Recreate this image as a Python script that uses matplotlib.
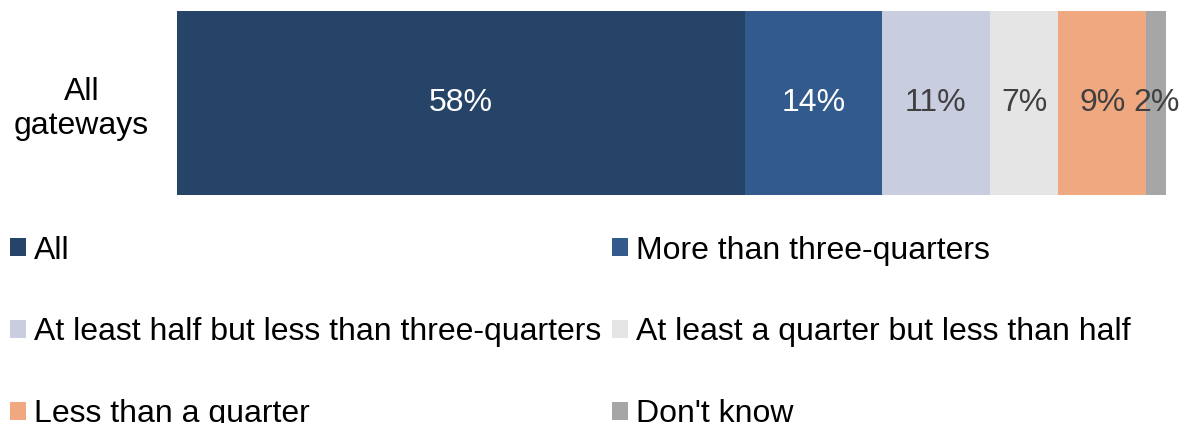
import numpy as np
import matplotlib.pyplot as plt
from matplotlib.patches import Patch

plt.rcParams['font.family'] = ['Liberation Sans', 'DejaVu Sans']

# Share of each response, single stacked bar
group = 'All\ngateways'
categories = ['All', 'More than three-quarters',
              'At least half but less than three-quarters',
              'At least a quarter but less than half',
              'Less than a quarter', "Don't know"]
values = [58, 14, 11, 7, 9, 2]

colors = ['#264468', '#325A8C', '#C8CDE0', '#E5E5E5', '#F0A881', '#A6A6A6']
text_colors = ['white', 'white', '#404040', '#404040', '#404040', '#404040']

fs = 23

fig = plt.figure(figsize=(11.84, 4.23), dpi=100)
ax = fig.add_axes([177 / 1184, 1 - 195 / 423, (1166 - 177) / 1184, (195 - 11) / 423])

left = 0
for val, col, tcol in zip(values, colors, text_colors):
    ax.barh(0, val, left=left, height=1.0, color=col, edgecolor='none')
    ax.text(left + val / 2, 0, '{}%'.format(val), ha='center', va='center',
            fontsize=fs, color=tcol)
    left += val

ax.set_xlim(0, sum(values))
ax.set_ylim(-0.5, 0.5)
ax.set_xticks([])
ax.set_yticks([0])
ax.set_yticklabels([group], fontsize=fs)
for lbl in ax.get_yticklabels():
    lbl.set_multialignment('center')
ax.tick_params(axis='y', length=0, pad=20)
for s in ax.spines.values():
    s.set_visible(False)

# legend fills column by column, so reorder to read across rows
order = [0, 2, 4, 1, 3, 5]
handles = [Patch(facecolor=colors[i], edgecolor='none') for i in order]
labels = [categories[i] for i in order]
fig.legend(handles, labels, ncol=2, loc='upper left',
           bbox_to_anchor=(0.0, 1 - 226 / 423), frameon=False, fontsize=fs,
           handlelength=0.5, handleheight=0.5, handletextpad=0.25,
           labelspacing=1.62, columnspacing=0.36, borderaxespad=0,
           borderpad=0.3)

fig.savefig('out.png', dpi=100)
